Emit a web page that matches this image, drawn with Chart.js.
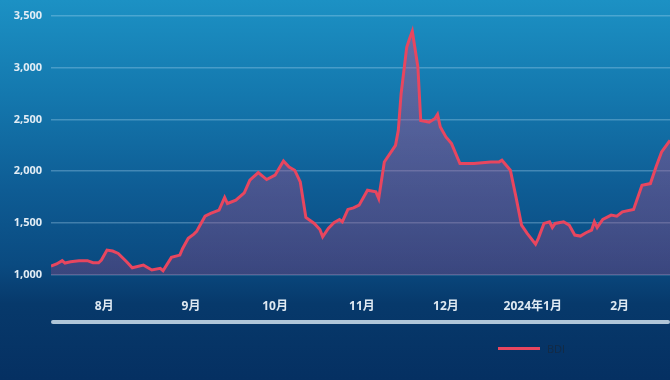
<!DOCTYPE html>
<html>
<head>
<meta charset="utf-8">
<script src="https://cdn.jsdelivr.net/npm/chart.js@4.4.1/dist/chart.umd.min.js"></script>
<style>
    html, body {
        margin: 0;
        padding: 0;
    }
    body {
        position: relative;
        width: 670px;
        height: 380px;
        overflow: hidden;
        background: linear-gradient(to bottom, #1c91c4 0%, #1478ae 25%, #0e5c94 50%, #0a4a80 70%, #07396b 80%, #053062 100%);
    }
    canvas {
        display: block;
    }
    #legend {
        position: absolute;
        left: 498px;
        top: 341px;
        display: flex;
        align-items: center;
        font-family: 'Open Sans', 'Noto Sans CJK SC', sans-serif;
        font-size: 11px;
        color: #142a44;
    }
    #legend .swatch {
        width: 42px;
        height: 3px;
        margin-right: 7px;
    }
</style>
</head>
<body>
<canvas id="bdiChart" width="670" height="380"></canvas>
<div id="legend"></div>
<script>
// days counted from 27 Jul 2023, BDI closing values
const days = [0, 2, 4, 5, 7, 10, 13, 15, 17, 18, 20, 22, 24, 27, 29, 33, 34, 36, 39, 40,
    43, 46, 47, 49, 51, 52, 53, 55, 57, 60, 62, 63, 66, 69, 71, 74, 77, 80, 83, 85,
    87, 89, 91, 94, 96, 97, 99, 101, 103, 104, 106, 108, 110, 113, 116, 117, 119, 123, 124, 125,
    127, 128, 129, 131, 132, 135, 137, 138, 139, 141, 143, 146, 151, 157, 160, 161, 164, 166, 168, 170,
    173, 174, 176, 178, 179, 180, 183, 185, 187, 189, 191, 193, 194, 195, 197, 200, 202, 204, 208, 211,
    214, 216, 218, 221];
const bdi = [1087, 1106, 1138, 1115, 1128, 1138, 1138, 1118, 1118, 1144, 1240, 1231, 1208, 1128, 1070, 1096, 1080, 1048, 1064, 1041,
    1170, 1192, 1256, 1353, 1394, 1420, 1470, 1567, 1593, 1625, 1747, 1689, 1721, 1791, 1913, 1987, 1920, 1962, 2099, 2041,
    2010, 1897, 1555, 1497, 1439, 1368, 1449, 1503, 1535, 1513, 1632, 1647, 1673, 1817, 1801, 1737, 2089, 2250, 2394, 2747,
    3195, 3276, 3349, 3003, 2490, 2474, 2506, 2548, 2426, 2330, 2266, 2074, 2074, 2090, 2090, 2106, 2010, 1753, 1481, 1401,
    1298, 1353, 1497, 1513, 1458, 1497, 1513, 1481, 1385, 1375, 1407, 1433, 1513, 1458, 1535, 1577, 1567, 1609, 1632, 1865,
    1881, 2041, 2186, 2298];

const monthDays = [19, 50, 80, 111, 141, 172, 203];
const monthLabels = ['8月', '9月', '10月', '11月', '12月', '2024年1月', '2月'];

const yTicks = [1000, 1500, 2000, 2500, 3000, 3500];

const lineColor = '#e8465f';
const labelFont = "'Open Sans', 'Noto Sans CJK SC', sans-serif";

// light bar under the month labels
const sliderBar = {
    id: 'sliderBar',
    afterDraw(chart) {
        const { ctx, chartArea, scales } = chart;
        const y = scales.x.top + 45;
        ctx.save();
        ctx.fillStyle = 'rgba(185, 205, 222, 0.95)';
        ctx.beginPath();
        ctx.roundRect(chartArea.left, y, chartArea.right - chartArea.left, 4, 2);
        ctx.fill();
        ctx.restore();
    }
};

const areaFill = (context) => {
    const { ctx, chartArea } = context.chart;
    if (!chartArea) return 'rgba(170, 70, 130, 0.4)';
    const g = ctx.createLinearGradient(0, chartArea.top, 0, chartArea.bottom);
    g.addColorStop(0, 'rgba(200, 80, 140, 0.45)');
    g.addColorStop(1, 'rgba(150, 70, 130, 0.35)');
    return g;
};

const chart = new Chart(document.getElementById('bdiChart'), {
    type: 'line',
    data: {
        datasets: [
            {
                label: 'BDI',
                data: days.map((d, i) => ({ x: d, y: bdi[i] })),
                borderColor: lineColor,
                borderWidth: 3,
                backgroundColor: areaFill,
                fill: 'start',
                pointRadius: 0,
                tension: 0,
            },
        ],
    },
    options: {
        responsive: false,
        animation: false,
        layout: {
            padding: { top: 14, left: 0, right: 0, bottom: 0 },
        },
        scales: {
            x: {
                type: 'linear',
                min: 0,
                max: 221,
                grid: { display: false, drawTicks: false },
                border: { display: false },
                afterBuildTicks: (axis) => {
                    axis.ticks = monthDays.map(v => ({ value: v }));
                },
                afterFit: (axis) => {
                    axis.height = 105;
                },
                ticks: {
                    autoSkip: false,
                    maxRotation: 0,
                    padding: 24,
                    color: '#dfe9f2',
                    font: { family: labelFont, size: 12, weight: 'bold' },
                    callback: (value, index) => monthLabels[index],
                },
            },
            y: {
                min: 1000,
                max: 3500,
                grid: {
                    color: 'rgba(190, 225, 250, 0.3)',
                    lineWidth: 1.5,
                    drawTicks: false,
                },
                border: { display: false },
                afterBuildTicks: (axis) => {
                    axis.ticks = yTicks.map(v => ({ value: v }));
                },
                afterFit: (axis) => {
                    axis.width = 51;
                },
                ticks: {
                    padding: 9,
                    color: '#e3edf5',
                    font: { family: labelFont, size: 11, weight: 'bold' },
                    callback: (value) => value.toLocaleString('en-US'),
                },
            },
        },
        plugins: {
            legend: { display: false },
            tooltip: { enabled: false },
        },
    },
    plugins: [sliderBar],
});

// html legend built from the dataset
const legendEl = document.getElementById('legend');
chart.data.datasets.forEach(ds => {
    const swatch = document.createElement('span');
    swatch.className = 'swatch';
    swatch.style.background = ds.borderColor;
    const text = document.createElement('span');
    text.textContent = ds.label;
    legendEl.appendChild(swatch);
    legendEl.appendChild(text);
});
</script>
</body>
</html>
